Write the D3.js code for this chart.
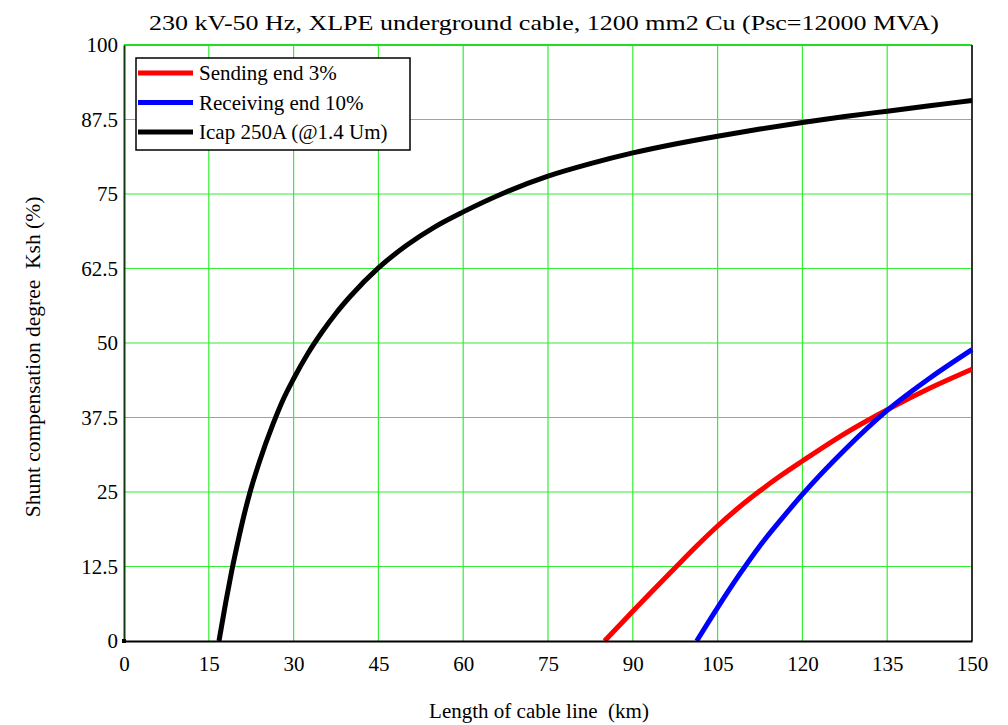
<!DOCTYPE html>
<html>
<head>
<meta charset="utf-8">
<script src="https://cdnjs.cloudflare.com/ajax/libs/d3/7.8.5/d3.min.js"></script>
<style>
	body{ margin:0; background:#fff; }
	svg text{ font-family:"Liberation Serif","Times New Roman",serif; fill:#000; }
</style>
</head>
<body>
<div id="chart"></div>
<script>
// data (km, %)
var sendKm   = [85.0, 90, 97.5, 101.25, 105, 108.75, 112.5, 116.25, 120, 127.5, 135, 142.5, 150]
	, sendVal  = [0, 5.0, 12.3, 15.9, 19.3, 22.4, 25.2, 27.8, 30.2, 34.8, 38.8, 42.4, 45.6]
	, recvKm   = [101.3, 105, 108.75, 112.5, 116.25, 120, 127.5, 135, 142.5, 150]
	, recvVal  = [0, 5.6, 11.0, 16.0, 20.4, 24.6, 32.1, 38.7, 44.1, 48.9]
	, icapKm   = [16.8, 18, 19, 20, 21, 22.3, 24, 26.4, 28, 30, 32.5, 35, 37.5, 40, 45, 50, 55, 60, 67.5, 75, 82.5, 90, 97.5, 105, 112.5, 120, 127.5, 135, 142.5, 150]
	, icapVal  = [0, 6.5, 11.5, 16, 20.2, 25, 30.2, 36.5, 40.2, 44, 48.2, 51.8, 55, 57.8, 62.6, 66.4, 69.5, 72, 75.3, 78, 80.1, 81.9, 83.4, 84.7, 85.9, 87, 88, 88.9, 89.8, 90.7]
	, xTicks   = [0, 15, 30, 45, 60, 75, 90, 105, 120, 135, 150]
	, yTicks   = [0, 12.5, 25, 37.5, 50, 62.5, 75, 87.5, 100]
	, seriesNames = ['Sending end 3%', 'Receiving end 10%', 'Icap 250A (@1.4 Um)']
	, seriesColors = ['#ff0000', '#0000ff', '#000000']
	;

var W = 1008, H = 725
	, pL = 124, pR = 972, pT = 45, pB = 641
	, fs = '21px'
	;

var svg = d3.select('#chart').append('svg').attr('width', W).attr('height', H);

var x = d3.scaleLinear().domain([0, 150]).range([pL, pR]);
var y = d3.scaleLinear().domain([0, 100]).range([pB, pT]);

// grid
svg.append('g').selectAll('line').data(xTicks.slice(1, -1)).enter().append('line')
	.attr('x1', function(d){ return x(d); }).attr('x2', function(d){ return x(d); })
	.attr('y1', pT).attr('y2', pB)
	.attr('stroke', '#33ee33').attr('stroke-width', 1.2);
svg.append('g').selectAll('line').data(yTicks.slice(1, -1)).enter().append('line')
	.attr('y1', function(d){ return y(d); }).attr('y2', function(d){ return y(d); })
	.attr('x1', pL).attr('x2', pR)
	.attr('stroke', '#33ee33').attr('stroke-width', 1.2);

// frame
svg.append('line').attr('x1', pL).attr('x2', pR).attr('y1', pT).attr('y2', pT)
	.attr('stroke', '#22dd22').attr('stroke-width', 2);
svg.append('line').attr('x1', pR).attr('x2', pR).attr('y1', pT).attr('y2', pB)
	.attr('stroke', '#333').attr('stroke-width', 2);

// curves
var line = d3.line().curve(d3.curveMonotoneX)
	.x(function(d){ return x(d[0]); }).y(function(d){ return y(d[1]); });
var series = [d3.zip(sendKm, sendVal), d3.zip(recvKm, recvVal), d3.zip(icapKm, icapVal)];

svg.append('g').selectAll('path').data(series).enter().append('path')
	.attr('d', line).attr('fill', 'none')
	.attr('stroke', function(d, i){ return seriesColors[i]; })
	.attr('stroke-width', 5);

// axes
var xAxis = svg.append('g').attr('transform', 'translate(0,' + pB + ')')
	.call(d3.axisBottom(x).tickValues(xTicks).tickSize(0).tickPadding(15));
xAxis.select('.domain').attr('stroke', '#000').attr('stroke-width', 2);
xAxis.selectAll('text').style('font-size', fs);

var yAxis = svg.append('g').attr('transform', 'translate(' + pL + ',0)')
	.call(d3.axisLeft(y).tickValues(yTicks).tickSize(0).tickPadding(6).tickFormat(function(d){ return d; }));
yAxis.select('.domain').attr('stroke', '#123a12').attr('stroke-width', 2);
yAxis.selectAll('text').style('font-size', fs);
svg.append('rect').attr('x', pL - 2).attr('y', pB - 2).attr('width', 4).attr('height', 4).attr('fill', '#000');

// titles
svg.append('text').attr('x', 544).attr('y', 30).attr('text-anchor', 'middle').style('font-size', '22px')
	.attr('textLength', 790).attr('lengthAdjust', 'spacingAndGlyphs')
	.text('230 kV-50 Hz, XLPE underground cable, 1200 mm2 Cu (Psc=12000 MVA)');
svg.append('text').attr('x', 539).attr('y', 718).attr('text-anchor', 'middle').style('font-size', fs)
	.style('white-space', 'pre').text('Length of cable line  (km)');
svg.append('text').attr('transform', 'translate(40,357) rotate(-90)').attr('text-anchor', 'middle').style('font-size', '21.5px')
	.style('white-space', 'pre').text('Shunt compensation degree  Ksh (%)');

// legend
var lg = svg.append('g');
lg.append('rect').attr('x', 136).attr('y', 58).attr('width', 274).attr('height', 92)
	.attr('fill', '#fff').attr('stroke', '#000').attr('stroke-width', 1.5);
var items = lg.selectAll('g.item').data(seriesNames).enter().append('g').attr('class', 'item')
	.attr('transform', function(d, i){ return 'translate(138,' + (73 + i * 29.5) + ')'; });
items.append('line').attr('x1', 0).attr('x2', 55).attr('y1', 0).attr('y2', 0)
	.attr('stroke', function(d, i){ return seriesColors[i]; }).attr('stroke-width', 5);
items.append('text').attr('x', 61).attr('y', 7).style('font-size', fs).text(function(d){ return d; });
</script>
</body>
</html>
